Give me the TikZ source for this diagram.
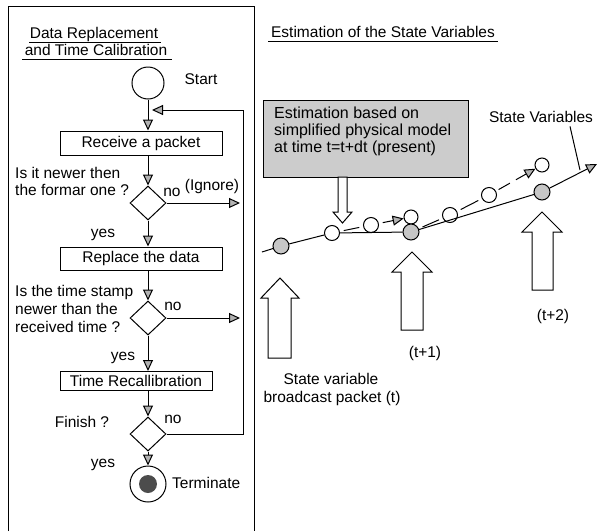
\documentclass[tikz,border=0pt]{standalone}
\usepackage{fontspec}
\setmainfont{Liberation Sans}
\usetikzlibrary{arrows.meta,shapes.geometric}
\begin{document}
\begin{tikzpicture}[x=1pt,y=-1pt,
  txt/.style={font=\fontsize{15.5}{17}\selectfont, inner sep=0pt},
  btxt/.style={font=\fontsize{16}{18}\selectfont, inner sep=0pt, anchor=base west},
  ln/.style={line width=1pt},
  proc/.style={draw, line width=1pt, minimum width=162pt, minimum height=24pt, inner sep=0pt, font=\fontsize{15.5}{17}\selectfont},
  dec/.style={draw, diamond, line width=1pt, minimum width=36pt, minimum height=34pt, inner sep=0pt},
  arr/.style={line width=1pt, -{Triangle[length=11pt,width=10pt,fill=gray!60]}},
  gcirc/.style={circle, draw, fill=gray!45, minimum size=16pt, inner sep=0pt, line width=1pt},
  wcirc/.style={circle, draw, fill=white, minimum size=15pt, inner sep=0pt, line width=1pt},
  blk/.style={draw, fill=white, line width=1pt, line join=miter},
  est/.style={ln, shorten <=4pt, shorten >=4pt},
]
\useasboundingbox (0,0) rectangle (598,531);

% left panel frame
\draw[line width=0.8pt] (8,531) -- (8,6) -- (254,6) -- (254,531);

% titles
\node[txt, anchor=base] (t1) at (94,38) {Data Replacement};
\node[txt, anchor=base] (t2) at (96,55) {and Time Calibration};
\draw[ln] (29,42.5) -- (161,42.5);
\draw[ln] (22,59.5) -- (172,59.5);
\node[txt, anchor=base] (t3) at (383,37) {Estimation of the State Variables};
\draw[ln] (268,41.5) -- (498,41.5);

% flowchart
\node[circle, draw, line width=1pt, minimum size=32pt, inner sep=0pt] (start) at (148,83) {};
\node[txt, anchor=base] (lstart) at (201,84) {Start};
\node[proc] (recv) at (141,143) {Receive a packet};
\node[dec] (d1) at (148,203) {};
\node[proc, minimum height=23pt] (repl) at (141,258.5) {Replace the data};
\node[dec] (d2) at (148,318) {};
\node[proc, minimum width=152pt, minimum height=19pt] (recal) at (136,381) {Time Recallibration};
\node[dec] (d3) at (148,434) {};
\node[circle, draw, line width=1pt, minimum size=36pt, inner sep=0pt] (term) at (148,484) {};
\node[circle, fill=black!70, minimum size=18pt, inner sep=0pt] (termin) at (148,484) {};

\coordinate (ig1) at (240,203);
\coordinate (ig2) at (240,318);
\coordinate (loopc) at (243,110);
\coordinate (loopend) at (152,110);

\draw[arr] (start.south) -- (start.south |- recv.north);
\draw[arr] (d1.north |- recv.south) -- (d1.north);
\draw[arr] (d1.south) -- (d1.south |- repl.north);
\draw[arr] (d2.north |- repl.south) -- (d2.north);
\draw[arr] (d2.south) -- (d2.south |- recal.north);
\draw[arr] (d3.north |- recal.south) -- (d3.north);
\draw[arr] (d3.south) -- (term.north);
\draw[arr] (d1.east) -- (ig1);
\draw[arr] (d2.east) -- (ig2);
\draw[arr] (d3.east) -| (loopc) -- (loopend);

% flowchart labels
\node[txt, anchor=base west] (q1a) at (15,178) {Is it newer then};
\node[txt, anchor=base west] (q1b) at (15,195) {the formar one ?};
\node[txt, anchor=base] (no1) at (172,196) {no};
\node[txt, anchor=base] (ign) at (212,190) {(Ignore)};
\node[txt, anchor=base] (yes1) at (103,237) {yes};
\node[txt, anchor=base west] (q2a) at (15,296) {Is the time stamp};
\node[txt, anchor=base west] (q2b) at (15,314) {newer than the};
\node[txt, anchor=base west] (q2c) at (15,332) {received time ?};
\node[txt, anchor=base] (no2) at (173,310) {no};
\node[txt, anchor=base] (yes2) at (123,360) {yes};
\node[txt, anchor=base] (q3) at (82,427) {Finish ?};
\node[txt, anchor=base] (no3) at (173,423) {no};
\node[txt, anchor=base] (yes3) at (103,467) {yes};
\node[txt, anchor=base west] (lterm) at (172,488) {Terminate};

% estimation box
\node[draw, fill=gray!40, line width=1pt, minimum width=205pt, minimum height=77pt, inner sep=0pt] (estbox) at (365.5,138.5) {};
\node[btxt] (e1) at (274,118) {Estimation based on};
\node[btxt] (e2) at (274,135) {simplified physical model};
\node[btxt] (e3) at (274,152) {at time t=t+dt (present)};
\draw[blk] (338,177) -- (338,212) -- (333,212) -- (342.5,223) -- (352,212) -- (347,212) -- (347,177) -- cycle;

% block arrows (packets)
\draw[blk] (268,358) -- (268,298) -- (261,298) -- (280,278) -- (299,298) -- (291,298) -- (291,358) -- cycle;
\draw[blk] (401,330) -- (401,272) -- (392,272) -- (412,252) -- (432,272) -- (423,272) -- (423,330) -- cycle;
\draw[blk] (532,290) -- (532,232) -- (522,232) -- (542,212) -- (562,232) -- (553,232) -- (553,290) -- cycle;

% trajectory
\coordinate (c0) at (262,252);
\coordinate (cend) at (597,164);
\node[gcirc] (A) at (281,246) {};
\node[wcirc] (B) at (332,233) {};
\node[wcirc] (E) at (371,225) {};
\node[wcirc, minimum size=14pt] (F) at (411,217) {};
\node[gcirc] (C) at (411,232) {};
\node[wcirc] (G) at (450,215) {};
\node[wcirc] (H) at (489,195) {};
\node[wcirc, minimum size=14pt] (I) at (542,165) {};
\node[gcirc] (D) at (542,192) {};

\draw[ln] (c0) -- (A) -- (B) -- (C) -- (D);
\draw[arr] (D) -- (cend);
\draw[est] (B) -- (E);
\draw[arr, shorten <=4pt] (E) -- (F);
\draw[est] (C) -- (G);
\draw[est] (G) -- (H);
\draw[arr, dash pattern=on 13pt off 7pt, shorten <=3pt] (H) -- (I);

% right labels
\node[txt, anchor=base] (sv) at (541,122) {State Variables};
\coordinate (svl) at (580,170);
\draw[ln] ([xshift=29pt,yshift=-4pt]sv.south) -- (svl);
\node[txt, anchor=base] (l2) at (553,320) {(t+2)};
\node[txt, anchor=base] (l1) at (425,357) {(t+1)};
\node[txt, anchor=base] (l0a) at (331,384) {State variable};
\node[txt, anchor=base] (l0b) at (332,402) {broadcast packet (t)};
\end{tikzpicture}
\end{document}
